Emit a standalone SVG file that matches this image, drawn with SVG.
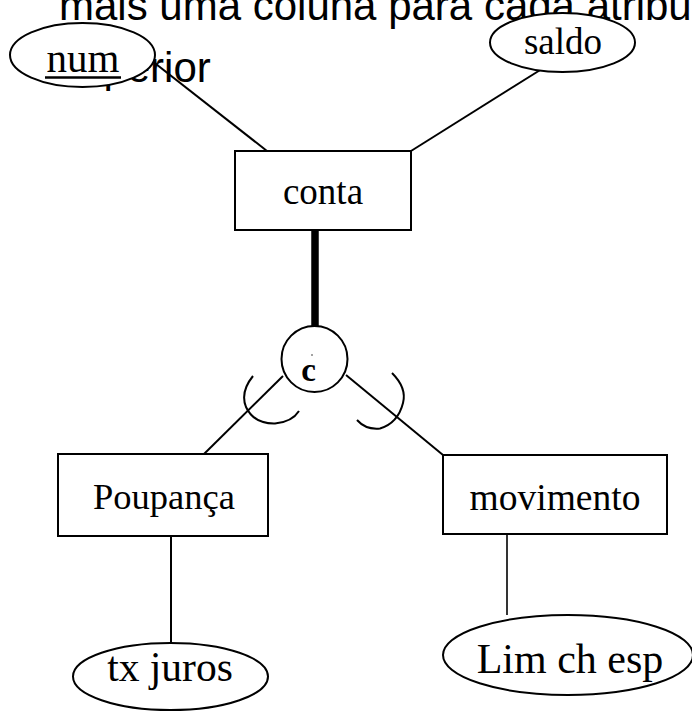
<svg xmlns="http://www.w3.org/2000/svg" width="692" height="711" viewBox="0 0 692 711">
<style>
.ln{stroke:#000;stroke-width:2;fill:none}
.nd{stroke:#000;stroke-width:2;fill:#fff}
.t{font-family:"Liberation Serif","Times New Roman",serif;fill:#000;text-anchor:middle}
.h{font-family:"Liberation Sans",Arial,sans-serif;font-size:42px;fill:#000}
</style>
<rect width="692" height="711" fill="#fff"/>
<g id="heading">
<text class="h" x="59" y="20">mais uma coluna para cada atribu</text>
<text class="h" x="103.4" y="81.5">perior</text>
</g>
<g id="connectors">
<line class="ln" x1="140" y1="51.5" x2="267" y2="151"/>
<line class="ln" x1="545" y1="67" x2="411" y2="151"/>
<line x1="315" y1="230" x2="315" y2="327" stroke="#000" stroke-width="7.5"/>
<line class="ln" x1="283" y1="376" x2="203" y2="455"/>
<line class="ln" x1="346" y1="375" x2="443" y2="455"/>
<line class="ln" x1="171" y1="536" x2="171" y2="643"/>
<line x1="507" y1="534" x2="507" y2="615" stroke="#000" stroke-width="1.6"/>
<path class="ln" d="M253,376 Q240,392 246,407 Q254,424 275,423.5 Q292,422 299,411"/>
<path class="ln" d="M392,373 Q407,388 403,403 Q398,423 380,428.5 Q366,430 357,420"/>
</g>
<g id="num">
<ellipse class="nd" cx="82.5" cy="55" rx="72.5" ry="32"/>
<text class="t" x="83" y="72" font-size="41">num</text>
<line x1="45" y1="77.5" x2="121" y2="77.5" stroke="#000" stroke-width="2.6"/>
</g>
<g id="saldo">
<ellipse class="nd" cx="562.5" cy="42.5" rx="72.5" ry="29.5"/>
<text class="t" x="563" y="53.5" font-size="37">saldo</text>
</g>
<g id="conta">
<rect class="nd" x="235" y="151" width="176" height="79"/>
<text class="t" x="323" y="204" font-size="37">conta</text>
</g>
<g id="c">
<circle class="nd" cx="314.5" cy="359" r="33"/>
<text class="t" x="308.5" y="380.5" font-size="33" font-weight="bold">c</text>
<circle cx="312" cy="355" r="0.7" fill="#000"/>
</g>
<g id="poupanca">
<rect class="nd" x="58" y="454" width="210" height="82"/>
<text class="t" x="164" y="509" font-size="36.5">Poupança</text>
</g>
<g id="movimento">
<rect class="nd" x="443" y="455" width="224" height="79"/>
<text class="t" x="555" y="510" font-size="37.5">movimento</text>
</g>
<g id="txjuros">
<ellipse class="nd" cx="170.5" cy="676.5" rx="97.5" ry="33.5"/>
<text class="t" x="170" y="681" font-size="41.5">tx juros</text>
</g>
<g id="limchesp">
<ellipse class="nd" cx="568" cy="655" rx="125" ry="40"/>
<text class="t" x="570" y="673" font-size="42">Lim ch esp</text>
</g>
</svg>
